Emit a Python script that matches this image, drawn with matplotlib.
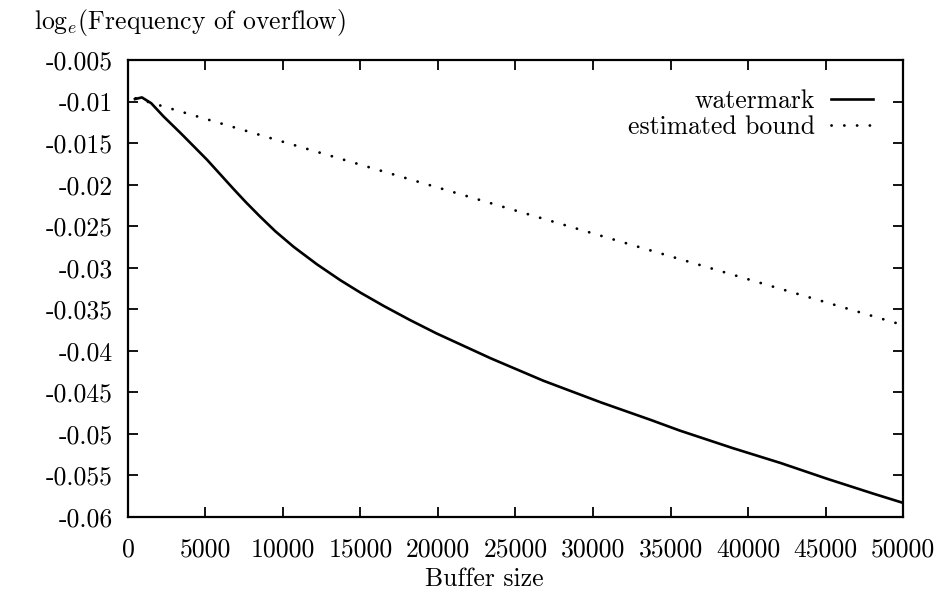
"""Frequency of overflow vs. buffer size (watermark vs. estimated bound)"""

import matplotlib

matplotlib.use("agg")
import matplotlib.pyplot as plt  # noqa: E402
from matplotlib.ticker import FixedLocator, FixedFormatter  # noqa: E402

plt.rcParams["font.family"] = ["cmr10", "DejaVu Serif"]
plt.rcParams["mathtext.fontset"] = "cm"
plt.rcParams["lines.scale_dashes"] = False

# values
buffer_size = [450, 900, 1500, 2300, 3400, 5100, 6800, 7600, 8500, 9500,
               10700, 12200, 13700, 15000, 16500, 18200, 19900, 23400, 26800,
               30500, 33700, 35600, 39000, 42100, 45100, 48100, 50000]
watermark = [-0.0097, -0.0095, -0.0102, -0.0118, -0.0138, -0.0170, -0.0205,
             -0.0221, -0.0238, -0.0256, -0.0275, -0.0296, -0.0315, -0.0330,
             -0.0346, -0.0363, -0.0379, -0.0409, -0.0436, -0.0462, -0.0483,
             -0.0496, -0.0517, -0.0535, -0.0554, -0.0572, -0.0583]
bound_x = [500, 50000]
bound_y = [-0.0096, -0.0369]

x_ticks = [0, 5000, 10000, 15000, 20000, 25000, 30000, 35000, 40000, 45000, 50000]
y_ticks = [-0.005, -0.01, -0.015, -0.02, -0.025, -0.03, -0.035, -0.04,
           -0.045, -0.05, -0.055, -0.06]
y_tick_labels = ["-0.005", "-0.01", "-0.015", "-0.02", "-0.025", "-0.03",
                 "-0.035", "-0.04", "-0.045", "-0.05", "-0.055", "-0.06"]

fontsize = 18.5

fig = plt.figure(figsize=(9.43, 5.92), dpi=100)
axes = fig.add_axes([0.1357, 0.1267, 0.8219, 0.7719])

axes.plot(buffer_size, watermark, color="black", lw=1.9, label="watermark")
axes.plot(bound_x, bound_y, color="black", lw=2.0,
          linestyle=(0, (0.1, 9.1)), dash_capstyle="round",
          label="estimated bound")

axes.set_xlim(0, 50000)
axes.set_ylim(-0.06, -0.005)
axes.xaxis.set_major_locator(FixedLocator(x_ticks))
axes.xaxis.set_major_formatter(FixedFormatter([str(t) for t in x_ticks]))
axes.yaxis.set_major_locator(FixedLocator(y_ticks))
axes.yaxis.set_major_formatter(FixedFormatter(y_tick_labels))
axes.tick_params(direction="in", length=7, width=1.3, top=True, right=True,
                 labelsize=fontsize)
axes.tick_params(axis="x", pad=15)
axes.tick_params(axis="y", pad=11)
for spine in axes.spines.values():
    spine.set_linewidth(1.6)

axes.legend(loc="upper right", bbox_to_anchor=(0.978, 0.965), frameon=False,
            markerfirst=False, fontsize=fontsize, handlelength=1.65,
            handletextpad=0.6, labelspacing=0.12, borderpad=0)

fig.text(0.514, 0.022, "Buffer size", ha="center", va="center",
         fontsize=fontsize)
fig.text(0.036, 0.962, r"$\mathrm{log}_e$(Frequency of overflow)",
         ha="left", va="center", fontsize=fontsize)

fig.savefig("out.png", dpi=100)
